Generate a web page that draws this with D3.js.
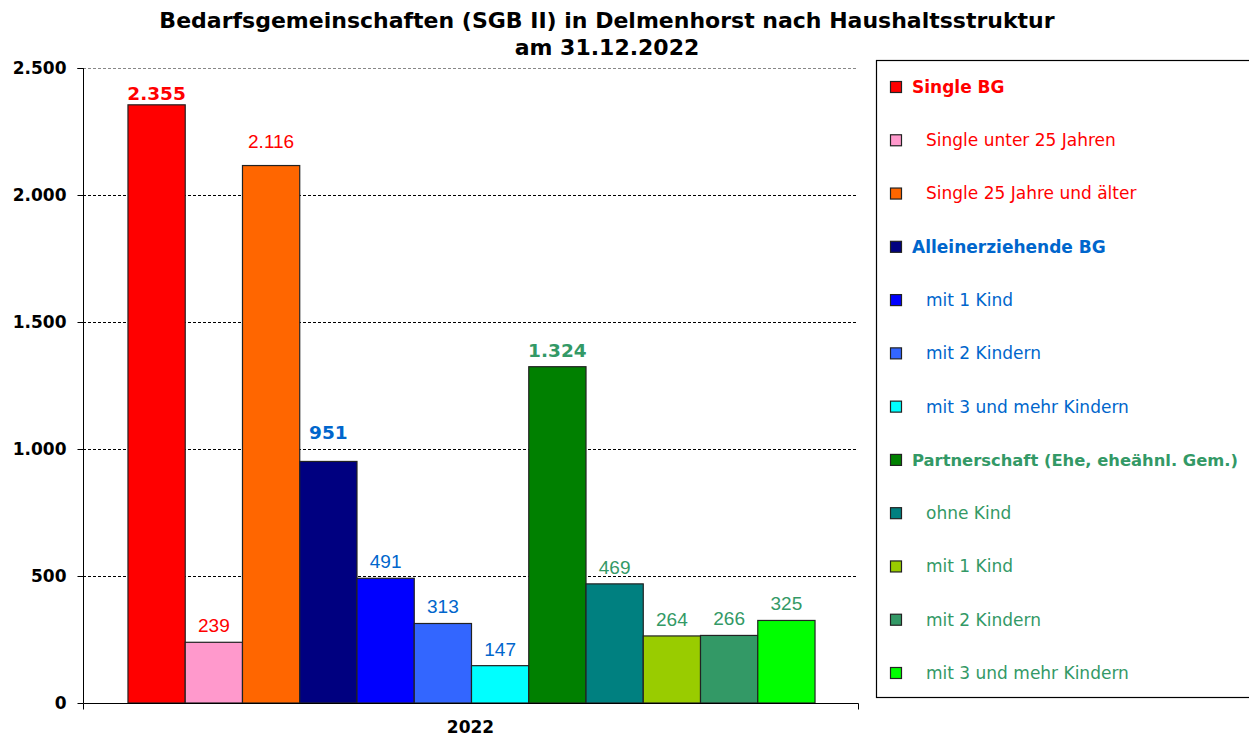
<!DOCTYPE html>
<html><head><meta charset="utf-8">
<script src="https://cdn.jsdelivr.net/npm/d3@7"></script>
<style>
body{margin:0;background:#fff;}
svg{display:block;}
</style></head>
<body>
<svg id="chart" width="1249" height="738"></svg>
<script>
const titleLines = ["Bedarfsgemeinschaften (SGB II) in Delmenhorst nach Haushaltsstruktur", "am 31.12.2022"];
const categoryLabel = ["2022"];
const seriesNames = ["Single BG","Single unter 25 Jahren","Single 25 Jahre und älter","Alleinerziehende BG","mit 1 Kind","mit 2 Kindern","mit 3 und mehr Kindern","Partnerschaft (Ehe, eheähnl. Gem.)","ohne Kind","mit 1 Kind","mit 2 Kindern","mit 3 und mehr Kindern"];
const seriesValues = [2355,239,2116,951,491,313,147,1324,469,264,266,325];
const seriesIsTotal = [true,false,false,true,false,false,false,true,false,false,false,false];
const seriesGroup = [0,0,0,1,1,1,1,2,2,2,2,2];
const seriesColors = ["#FF0000","#FF99CC","#FF6600","#000080","#0000FF","#3366FF","#00FFFF","#008000","#008080","#99CC00","#339966","#00FF00"];
const groupTextColors = ["#FF0000","#0066CC","#339966"];
const yTicks = [0,500,1000,1500,2000,2500];

const fmt = v => d3.format(",")(v).replace(/,/g,".");
const svg = d3.select("#chart");
const font = "Tahoma, 'DejaVu Sans', Verdana, sans-serif";

// plot area
const x0 = 83, x1 = 858, yTop = 68, yBot = 703;
const y = d3.scaleLinear().domain([0,2500]).range([yBot,yTop]);
const xGroup = d3.scaleBand().domain(categoryLabel).range([x0,x1]).paddingInner(0).paddingOuter(0.064);
const xBar = d3.scaleBand().domain(d3.range(seriesValues.length)).range([xGroup("2022")+1, xGroup("2022")+xGroup.bandwidth()+1]);

// gridlines
svg.append("g").selectAll("line").data(yTicks.filter(d=>d>0)).join("line")
  .attr("x1",x0).attr("x2",x1).attr("y1",d=>y(d)+0.5).attr("y2",d=>y(d)+0.5)
  .attr("stroke",d=>d===2500?"#888":"#000").attr("stroke-width",1).attr("stroke-dasharray","3,2");

// bars
svg.append("g").selectAll("rect").data(seriesValues).join("rect")
  .attr("x",(d,i)=>xBar(i)).attr("width",xBar.bandwidth())
  .attr("y",d=>y(d)).attr("height",d=>yBot-y(d))
  .attr("fill",(d,i)=>seriesColors[i]).attr("stroke","#222").attr("stroke-width",1.2);

// value labels
const labelNudge = {0:-5, 2:8, 3:12};
svg.append("g").selectAll("text").data(seriesValues).join("text")
  .attr("x",(d,i)=>xBar(i)+xBar.bandwidth()/2)
  .attr("y",(d,i)=>y(d)-10-(labelNudge[i]||0))
  .attr("text-anchor","middle")
  .attr("font-family",(d,i)=>seriesIsTotal[i]?font:"Arial, 'Liberation Sans', sans-serif")
  .attr("font-weight",(d,i)=>seriesIsTotal[i]?"bold":"normal")
  .attr("font-size",(d,i)=>seriesIsTotal[i]?18.5:19)
  .attr("fill",(d,i)=>groupTextColors[seriesGroup[i]])
  .text(d=>fmt(d));

// y axis
const yAxis = svg.append("g").attr("transform",`translate(${x0+0.5},0)`)
  .call(d3.axisLeft(y).tickValues(yTicks).tickSize(6).tickFormat(fmt));
yAxis.select(".domain").attr("stroke","#000").attr("d",`M-6,${yTop+0.5}H0V${yBot}`);
yAxis.selectAll(".tick line").attr("stroke","#000");
yAxis.selectAll("text").attr("font-family",font).attr("font-weight","bold").attr("font-size",17).attr("fill","#000").attr("x",-17).attr("dy","0.35em");

// x axis
const xAxis = svg.append("g").attr("transform",`translate(0,${yBot+0.5})`)
  .call(d3.axisBottom(xGroup).tickSize(0).tickPadding(17));
xAxis.select(".domain").attr("stroke","#000").attr("d",`M${x0+0.5},6V0H${x1+0.5}V6`);
xAxis.selectAll("text").attr("font-family",font).attr("font-weight","bold").attr("font-size",17).attr("fill","#000");

// title
svg.append("g").selectAll("text").data(titleLines).join("text")
  .attr("x",607).attr("y",(d,i)=>28+i*27).attr("text-anchor","middle")
  .attr("font-family",font).attr("font-weight","bold").attr("font-size",22).attr("fill","#000")
  .text(d=>d);

// legend
const lg = svg.append("g");
lg.append("rect").attr("x",876.5).attr("y",60.5).attr("width",380).attr("height",637)
  .attr("fill","#fff").attr("stroke","#000").attr("stroke-width",1.2);
const ly = d3.scalePoint().domain(d3.range(seriesNames.length)).range([87,673]);
const items = lg.selectAll("g.item").data(seriesNames).join("g").attr("class","item")
  .attr("transform",(d,i)=>`translate(0,${ly(i)})`);
items.append("rect").attr("x",890.5).attr("y",-5.5).attr("width",11).attr("height",11)
  .attr("fill",(d,i)=>seriesColors[i]).attr("stroke","#222").attr("stroke-width",1.2);
items.append("text").attr("x",(d,i)=>seriesIsTotal[i]?912:926).attr("y",0).attr("dy","0.35em")
  .attr("font-family",font).attr("font-weight",(d,i)=>seriesIsTotal[i]?"bold":"normal")
  .attr("font-size",(d,i)=>(seriesNames[i].length > 30 ? 16 : 17)).attr("fill",(d,i)=>groupTextColors[seriesGroup[i]])
  .each(function(d){ if (d.length > 30) d3.select(this).attr("textLength",326).attr("lengthAdjust","spacingAndGlyphs"); })
  .text(d=>d);
</script>
</body></html>
